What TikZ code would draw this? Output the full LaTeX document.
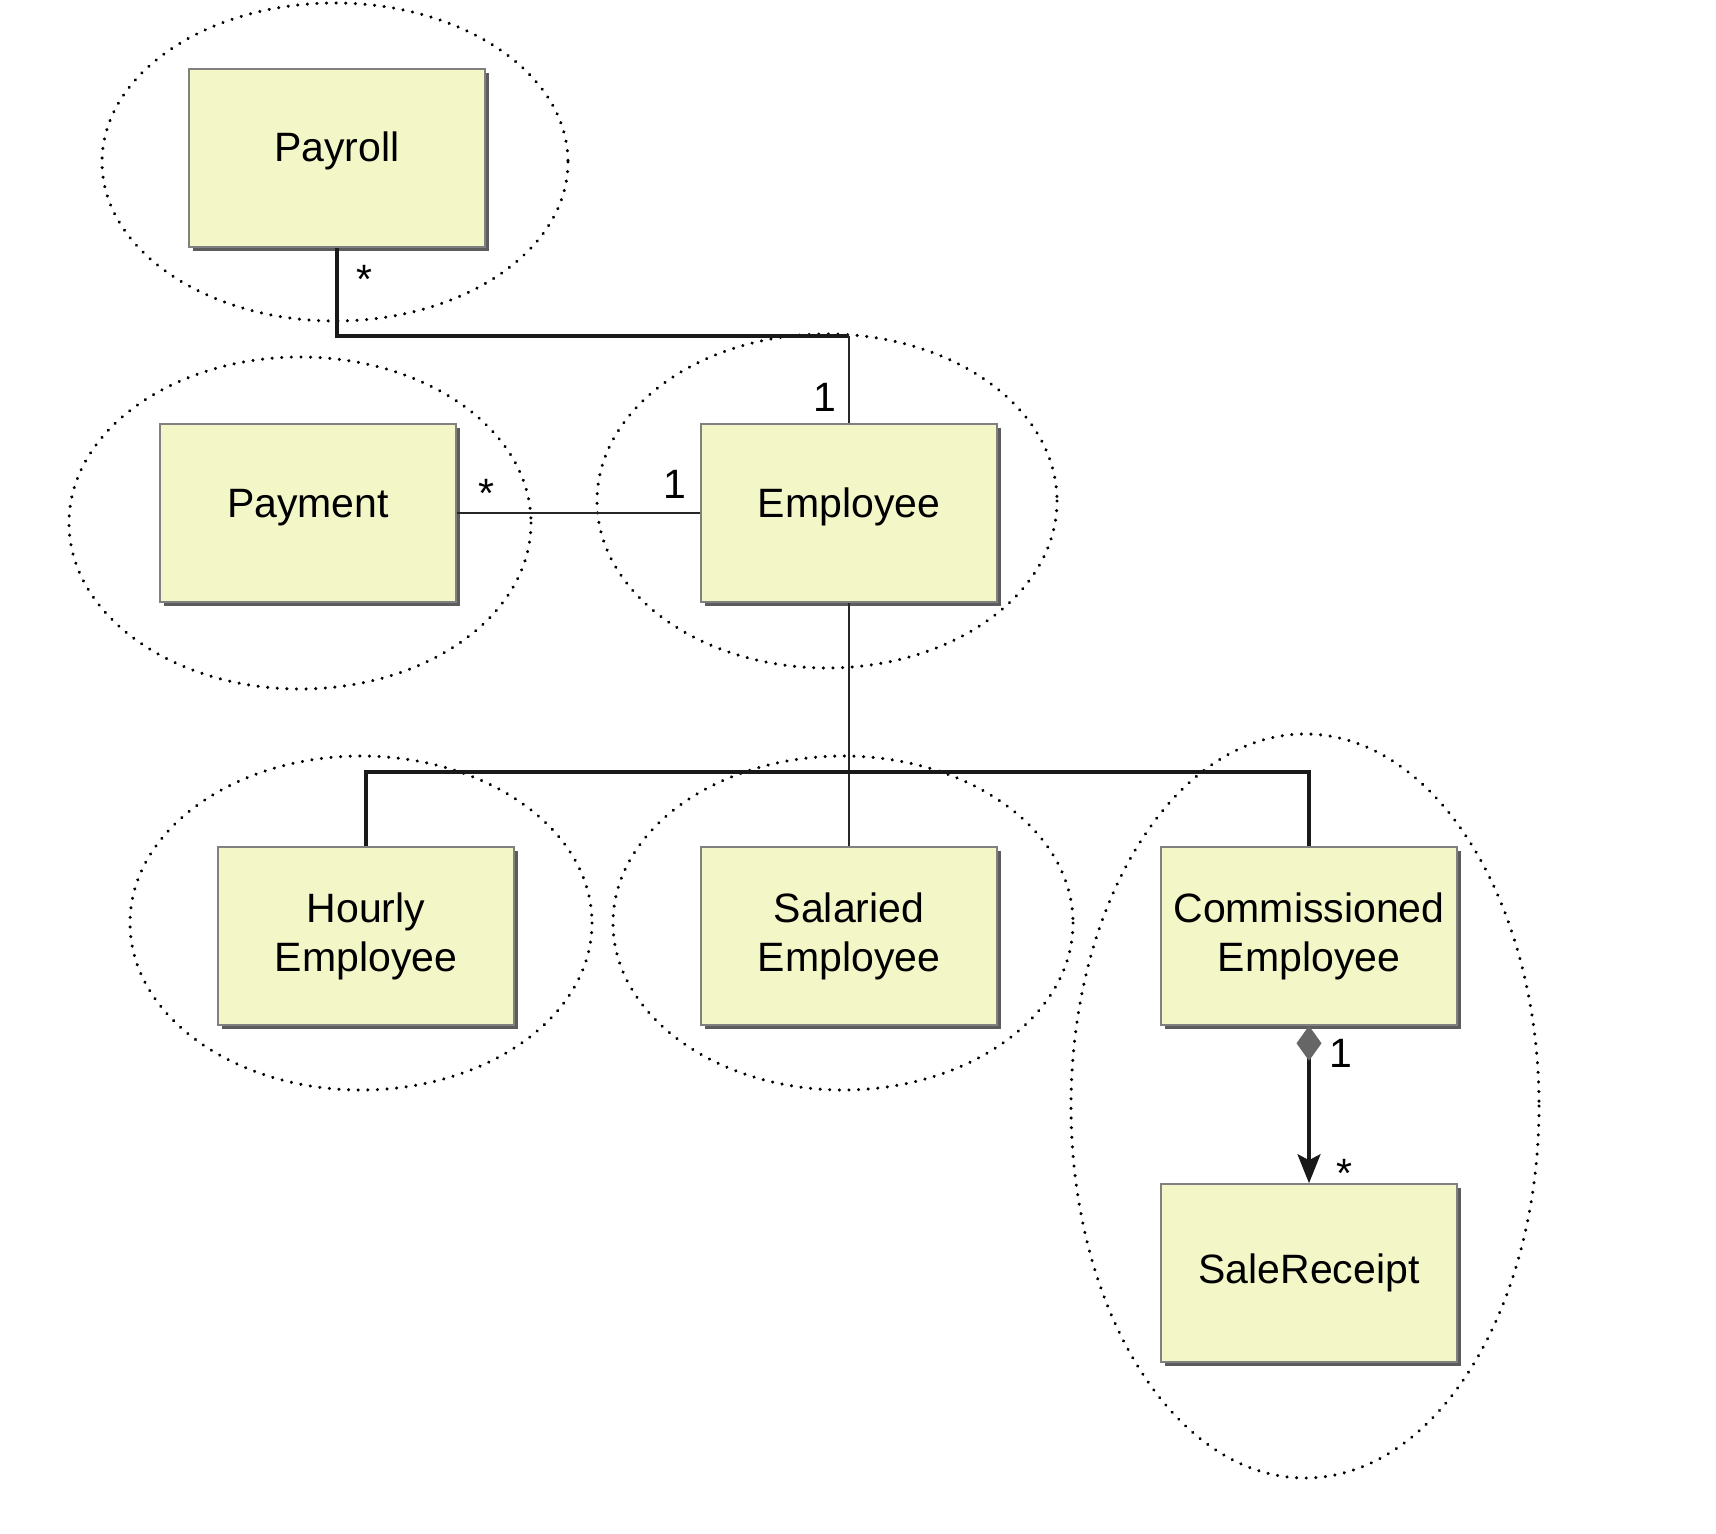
\documentclass[tikz,border=0pt]{standalone}
\usepackage{fontspec}
\setmainfont{Liberation Sans}
\usetikzlibrary{arrows.meta,shadows}
\definecolor{classfill}{RGB}{243,246,198}
\tikzset{
	classbox/.style={draw=black!50, line width=0.8pt, fill=classfill, minimum width=148pt, minimum height=89pt, align=center, inner sep=0pt, font=\fontsize{20.5}{24.6}\selectfont, drop shadow={shadow xshift=1.9pt, shadow yshift=-1.9pt, fill=black!75, opacity=0.85}},
	oneline/.style={text height=15pt, text depth=11pt},
	package/.style={line width=1.7pt, dash pattern=on 0.01pt off 4.8pt, line cap=round, color=black},
	mult/.style={anchor=base, inner sep=0pt, font=\fontsize{20.5}{24.6}\selectfont},
	thinlink/.style={line width=1pt, color=black!85},
	thicklink/.style={line width=1.7pt, color=black!90}
}

\begin{document}
\begin{tikzpicture}[x=0.5pt, y=-0.5pt]
			%%%%% START %%%%%
			\useasboundingbox (0, 0) rectangle (1716, 1534);
			
			% packages
			\draw[package] (335, 162) ellipse [x radius=233, y radius=159];
			\draw[package] (300, 523) ellipse [x radius=231, y radius=166];
			\draw[package] (827, 501) ellipse [x radius=230, y radius=167];
			\draw[package] (361, 923) ellipse [x radius=231, y radius=167];
			\draw[package] (843, 923) ellipse [x radius=230, y radius=167];
			\draw[package] (1305, 1106) ellipse [x radius=234, y radius=372];
			
			% classes
			\node[classbox, oneline] (payroll) at (337, 158) {Payroll};
			\node[classbox, oneline] (payment) at (308, 513) {Payment};
			\node[classbox, oneline] (employee) at (849, 513) {Employee};
			\node[classbox] (hourly) at (366, 936) {Hourly\\Employee};
			\node[classbox] (salaried) at (849, 936) {Salaried\\Employee};
			\node[classbox] (commissioned) at (1309, 936) {Commissioned\\Employee};
			\node[classbox] (receipt) at (1309, 1273) {SaleReceipt};
			
			% associations
			\coordinate (payline) at (849, 336);
			\draw[thicklink] (payroll.south) |- (payline);
			\draw[thinlink] (payline) -- (employee.north);
			\draw[thinlink] (payment.east) -- (payment.east -| employee.west);
			
			% generalization
			\coordinate (bus) at (849, 772);
			\draw[thinlink] (employee.south) -- (salaried.north);
			\draw[thicklink] (hourly.north) |- (bus) -| (commissioned.north);
			
			% composition
			\draw[thicklink, {Diamond[length=17.5pt, width=12.5pt, color=black!60, fill=black!60]}-{Stealth[length=14.5pt, width=11.5pt, inset=3pt]}] (commissioned.south) -- (receipt.north);
			
			% multiplicities
			\node[mult] (m1) at (364, 294) {*};
			\node[mult] (m2) at (825, 412) {1};
			\node[mult] (m3) at (486, 507) {*};
			\node[mult] (m4) at (675, 498) {1};
			\node[mult] (m5) at (1341, 1067) {1};
			\node[mult] (m6) at (1344, 1187) {*};
			%%%%% END %%%%%
\end{tikzpicture}
\end{document}
